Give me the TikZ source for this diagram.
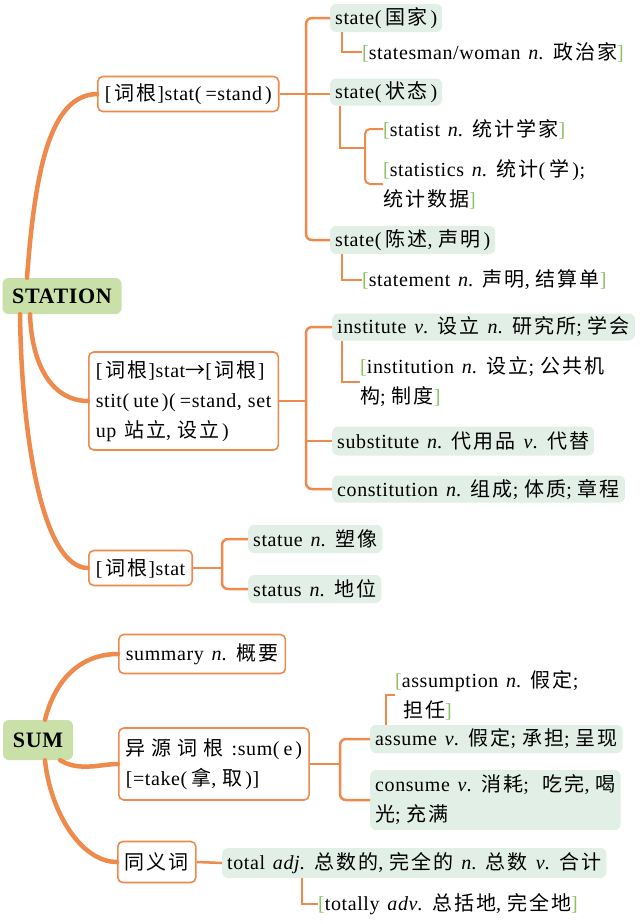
\documentclass[tikz,border=0pt]{standalone}
\usepackage{fontspec}
\setmainfont[LetterSpace=3, WordSpace=1.4]{Liberation Serif}
\newfontfamily\cjk[LetterSpace=10]{Noto Sans CJK SC}
\newfontfamily\cjkwide[LetterSpace=30]{Noto Sans CJK SC}
\newcommand\zh[1]{{\cjk\fontsize{20}{30}\selectfont #1}}
\newcommand\zhw[1]{{\cjkwide\fontsize{20}{30}\selectfont #1}}
\newcommand\cg[1]{[\hspace{3pt}\zh{#1}\hspace{1pt}]}
\newcommand\sm{;\hspace{6pt}}
\newcommand\cm{,\hspace{6pt}}
\newcommand\op{(\hspace{4pt}}
\newcommand\cp{\hspace{3pt})}
\definecolor{org}{HTML}{EE8A4C}
\definecolor{gbr}{HTML}{8CC063}
\definecolor{gfill}{HTML}{E2EFE7}
\definecolor{sfill}{HTML}{C9E0A9}
\newcommand\lb{{\color{gbr}[}}
\newcommand\rb{{\color{gbr}]}}
\begin{document}
\begin{tikzpicture}[x=1pt,y=-1pt,
  every node/.style={font=\fontsize{20}{30}\selectfont},
  root/.style={fill=sfill, rounded corners=6pt, inner sep=0pt, font=\bfseries\fontsize{22}{24}\selectfont},
  obox/.style={draw=org, line width=1.6pt, fill=white, rounded corners=5pt, anchor=west, inner xsep=7pt, inner ysep=0pt, align=left},
  gbox/.style={fill=gfill, rounded corners=6pt, anchor=west, inner xsep=5pt, inner ysep=0pt, align=left, minimum height=28pt},
  txt/.style={anchor=west, inner sep=0pt, align=left},
  link/.style={draw=org, line width=2.5pt, rounded corners=6pt},
  sub/.style={draw=org, line width=2pt},
  curve/.style={draw=org, line width=4.5pt, line cap=round}]
\useasboundingbox (0,0) rectangle (640,924);
\fill[white] (0,0) rectangle (640,924);

% ---------- STATION ----------
\node[root, minimum width=119pt, minimum height=36pt] (station) at (62,296) {STATION};

\node[obox, minimum height=35pt] (b1) at (97,94) {\cg{词根}stat\op=stand\cp};
\node[gbox] (s1) at (330,18) {state\op\zh{国家}\cp};
\node[txt] (t1) at (362,52) {\lb statesman/woman \textit{n}. \zh{政治家}\rb};
\node[gbox, minimum height=27pt] (s2) at (330,92) {state\op\zh{状态}\cp};
\node[txt] (t2) at (383,129) {\lb statist \textit{n}. \zh{统计学家}\rb};
\node[txt] (t3) at (383,184) {\lb statistics \textit{n}. \zh{统计}\op\zh{学}\cp\sm\\\zh{统计数据}\rb};
\node[gbox] (s3) at (330,240) {state\op\zh{陈述}\cm\zh{声明}\cp};
\node[txt] (t4) at (362,280) {\lb statement \textit{n}. \zh{声明}\cm\zh{结算单}\rb};

\node[obox, minimum height=98pt] (b2) at (88,401) {\cg{词根}stat\zh{→}\cg{词根}\\stit\op ute\cp\op=stand\cm set\\up \zh{站立}\cm\zh{设立}\cp};
\node[gbox, minimum height=27pt] (i1) at (332,327) {institute \textit{v}. \zh{设立} \textit{n}. \zh{研究所}\sm\zh{学会}};
\node[txt] (t5) at (360,382) {\lb institution \textit{n}. \zh{设立}\sm\zh{公共机}\\\zh{构}\sm\zh{制度}\rb};
\node[gbox, minimum height=29pt] (i2) at (332,441) {substitute \textit{n}. \zh{代用品} \textit{v}. \zh{代替}};
\node[gbox, minimum height=27pt] (i3) at (332,489) {constitution \textit{n}. \zh{组成}\sm\zh{体质}\sm\zh{章程}};

\node[obox, minimum height=35pt] (b3) at (88,568) {\cg{词根}stat};
\node[gbox] (u1) at (248,539) {statue \textit{n}. \zh{塑像}};
\node[gbox] (u2) at (248,589) {status \textit{n}. \zh{地位}};

% connectors STATION
\draw[curve] ([xshift=-35pt]station.north) .. controls (35,170) and (50,95) .. (b1.west);
\draw[curve] ([xshift=-32pt]station.south) .. controls (32,370) and (55,401) .. (b2.west);
\draw[curve] ([xshift=-42pt]station.south) .. controls (22,450) and (45,568) .. (b3.west);

\coordinate (j1) at (306,94);
\draw[link] (s1.west) -| (j1) |- (s3.west);
\draw[link] (b1.east) -- (b1.east -| s2.west);
\draw[sub] ([xshift=12pt]s1.south west) |- (t1.west);
\coordinate (j2) at (365,148);
\draw[sub] ([xshift=10pt]s2.south west) |- (j2);
\draw[sub, rounded corners=5pt] (t2.west) -| (j2) |- (t3.west);
\draw[sub] ([xshift=12pt]s3.south west) |- (t4.west);

\coordinate (j3) at (306,401);
\draw[link] (b2.east) -- (j3);
\draw[link] (i1.west) -| (j3) |- (i3.west);
\draw[link] (i2.west) -- (i2.west -| j3);
\draw[sub] ([xshift=10pt]i1.south west) |- (t5.west);

\coordinate (j4) at (222,568);
\draw[link] (b3.east) -- (j4);
\draw[link] (u1.west) -| (j4) |- (u2.west);

% ---------- SUM ----------
\node[root, minimum width=70pt, minimum height=40pt] (sum) at (38,740) {SUM};
\node[obox, minimum height=39pt] (m1) at (118,654) {summary \textit{n}. \zh{概要}};
\node[obox, minimum height=72pt] (m2) at (118,764) {\zhw{异源词根} :sum\op e\cp\\{}[=take\op\zh{拿}\cm\zh{取}\cp]};
\node[gbox] (a1) at (370,739) {assume \textit{v}. \zh{假定}\sm\zh{承担}\sm\zh{呈现}};
\node[gbox, minimum height=60pt] (a2) at (370,800) {consume \textit{v}. \zh{消耗}\sm\ \zh{吃完}\cm\zh{喝}\\\zh{光}\sm\zh{充满}};
\node[txt] (as) at (395,695) {\lb assumption \textit{n}. \zh{假定}\sm\\\ \zh{担任}\rb};
\node[obox, minimum height=41pt] (m3) at (117,862) {\zh{同义词}};
\node[gbox, minimum height=30pt] (tt) at (222,863) {total \textit{adj}. \zh{总数的}\cm\zh{完全的} \textit{n}. \zh{总数} \textit{v}. \zh{合计}};
\node[txt] (tl) at (318,904) {\lb totally \textit{adv}. \zh{总括地}\cm\zh{完全地}\rb};

\draw[curve] ([xshift=7pt]sum.north) .. controls (55,680) and (80,654) .. (m1.west);
\draw[curve] ([xshift=22pt]sum.south) .. controls (80,772) and (100,764) .. (m2.west);
\draw[curve] ([xshift=7pt]sum.south) .. controls (50,810) and (80,862) .. (m3.west);

\coordinate (j5) at (340,764);
\draw[link] (m2.east) -- (j5);
\draw[link] (a1.west) -| (j5) |- (a2.west);
\draw[sub] ([xshift=16pt]a1.north west) |- (as.west);
\draw[link] (m3.east) -- (tt.west);
\draw[sub] ([xshift=80pt]tt.south west) |- (tl.west);
\end{tikzpicture}
\end{document}
